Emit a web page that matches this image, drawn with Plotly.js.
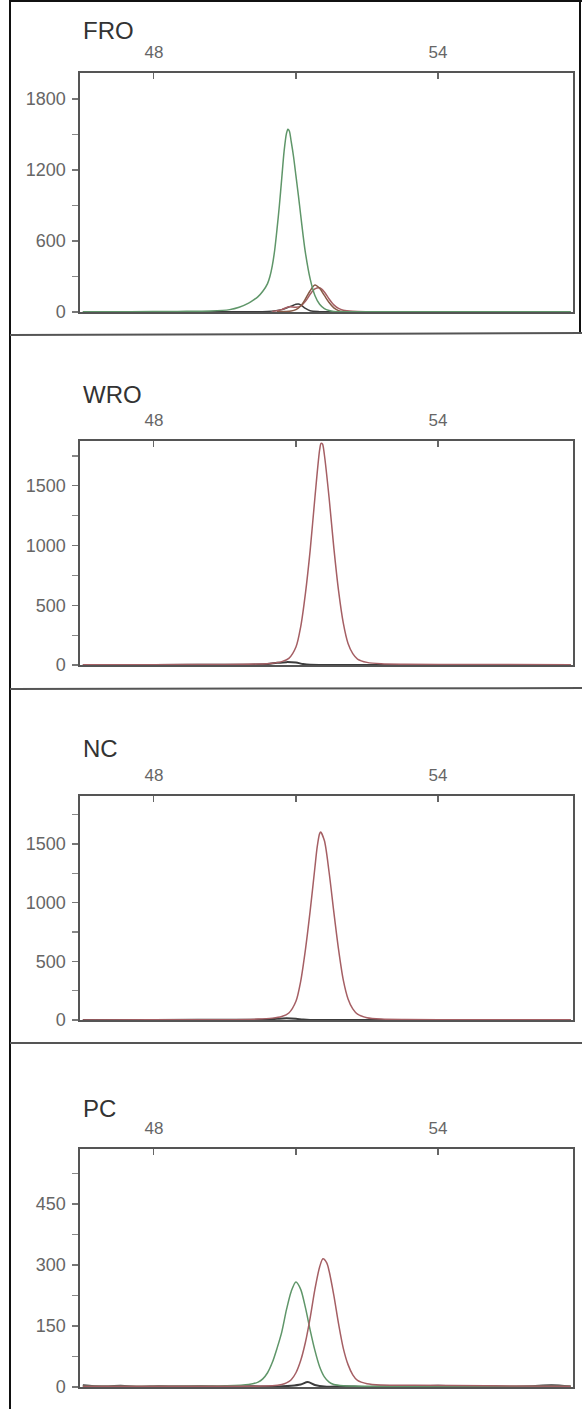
<!DOCTYPE html>
<html>
<head>
<meta charset="utf-8">
<script src="https://cdn.plot.ly/plotly-3.0.1.min.js"></script>
<style>
html,body{margin:0;padding:0;background:#fff;}
#chart{width:582px;height:1409px;}
</style>
</head>
<body>
<div id="chart"></div>
<script>
// ---------- data ----------
var panelTitles = ['FRO', 'WRO', 'NC', 'PC'];
var xTickVals = [48, 51, 54];
var xTickText = ['48', '', '54'];

var froYTicks = [0, 600, 1200, 1800];
var froYMinor = [300, 900, 1500];
var wroYTicks = [0, 500, 1000, 1500];
var wroYMinor = [250, 750, 1250, 1750];
var ncYTicks = [0, 500, 1000, 1500];
var ncYMinor = [250, 750, 1250, 1750];
var pcYTicks = [0, 150, 300, 450];
var pcYMinor = [75, 225, 375, 525];

// FRO
var froGreenX = [46.5, 47.5, 48.5, 49.2, 49.6, 49.8, 50.0, 50.1, 50.2, 50.3, 50.4, 50.45, 50.5, 50.55, 50.6, 50.65, 50.7, 50.75, 50.8, 50.83, 50.86, 50.9, 50.95, 51.0, 51.05, 51.1, 51.15, 51.2, 51.3, 51.4, 51.5, 51.6, 51.7, 51.8, 52.0, 52.4, 53.5, 55, 56.8];
var froGreenY = [2, 3, 5, 8, 20, 40, 75, 100, 130, 175, 240, 300, 390, 520, 700, 900, 1130, 1360, 1510, 1545, 1530, 1440, 1310, 1150, 990, 820, 650, 500, 280, 140, 65, 28, 12, 5, 2, 2, 2, 2, 2];
var froBrownX = [50.6, 50.9, 51.0, 51.1, 51.2, 51.3, 51.4, 51.5, 51.6, 51.7, 51.8, 51.9, 52.0, 52.2];
var froBrownY = [2, 8, 20, 50, 110, 180, 228, 200, 140, 80, 35, 12, 4, 1];
var froRedX = [50.5, 50.7, 50.85, 51.0, 51.1, 51.2, 51.3, 51.4, 51.5, 51.6, 51.7, 51.8, 51.9, 52.0, 52.2, 52.5, 53, 54, 55];
var froRedY = [5, 20, 45, 40, 50, 90, 150, 195, 205, 170, 110, 60, 30, 15, 6, 3, 2, 2, 1];
var froBlackX = [46.5, 48, 49.5, 50.4, 50.7, 50.9, 51.0, 51.05, 51.1, 51.2, 51.3, 51.5, 52, 54, 56.8];
var froBlackY = [0, 0, 2, 5, 20, 50, 65, 68, 60, 30, 10, 3, 1, 0, 0];

// WRO
var wroRedX = [46.5, 48, 49.5, 50.2, 50.5, 50.7, 50.85, 51.0, 51.1, 51.2, 51.3, 51.4, 51.5, 51.53, 51.56, 51.6, 51.7, 51.8, 51.9, 52.0, 52.1, 52.2, 52.3, 52.5, 52.8, 53.3, 54.5, 56.8];
var wroRedY = [2, 3, 4, 8, 15, 28, 55, 150, 320, 600, 960, 1400, 1800, 1855, 1850, 1760, 1400, 980, 620, 350, 180, 95, 50, 22, 10, 6, 4, 3];
var wroBlackX = [46.5, 48, 50.0, 50.4, 50.6, 50.8, 51.0, 51.15, 51.3, 52, 56.8];
var wroBlackY = [0, 1, 3, 8, 18, 24, 20, 8, 2, 1, 0];

// NC
var ncRedX = [46.5, 48, 49.5, 50.2, 50.5, 50.7, 50.85, 51.0, 51.1, 51.2, 51.3, 51.4, 51.45, 51.5, 51.52, 51.6, 51.7, 51.8, 51.9, 52.0, 52.1, 52.2, 52.3, 52.5, 52.8, 53.3, 54.5, 56.8];
var ncRedY = [1, 2, 3, 8, 16, 30, 60, 160, 330, 600, 930, 1300, 1480, 1590, 1603, 1530, 1260, 920, 600, 340, 180, 95, 50, 20, 8, 4, 3, 2];
var ncBlackX = [46.5, 48, 50.0, 50.4, 50.6, 50.8, 51.0, 51.15, 51.3, 52, 56.8];
var ncBlackY = [0, 1, 2, 5, 10, 14, 10, 4, 1, 1, 0];

// PC
var pcGreenX = [46.5, 48, 49.5, 50.0, 50.2, 50.3, 50.4, 50.5, 50.6, 50.7, 50.8, 50.9, 51.0, 51.1, 51.2, 51.3, 51.4, 51.5, 51.6, 51.7, 51.8, 52.0, 52.5, 54, 56.8];
var pcGreenY = [2, 2, 3, 6, 12, 20, 35, 60, 95, 135, 190, 235, 258, 240, 195, 140, 90, 50, 25, 12, 6, 3, 2, 2, 2];
var pcRedX = [46.5, 49, 50.5, 50.7, 50.8, 50.9, 51.0, 51.1, 51.2, 51.3, 51.4, 51.5, 51.57, 51.65, 51.7, 51.8, 51.9, 52.0, 52.1, 52.2, 52.3, 52.5, 52.8, 53.5, 55, 56.8];
var pcRedY = [2, 2, 3, 6, 10, 18, 35, 65, 110, 170, 240, 295, 315, 305, 285, 225, 155, 95, 55, 30, 16, 8, 5, 4, 3, 2];
var pcBlackX = [46.5, 46.9, 47.3, 47.7, 48.1, 48.5, 49.0, 49.5, 50.0, 50.5, 50.9, 51.1, 51.25, 51.4, 51.6, 52.0, 52.5, 53.0, 53.5, 54.0, 54.5, 55.0, 55.5, 56.0, 56.4, 56.8];
var pcBlackY = [4, 1, 3, 0, 2, 1, 2, 0, 2, 1, 3, 6, 12, 5, 1, 2, 0, 2, 1, 3, 1, 2, 0, 2, 4, 1];

// ---------- styling ----------
var W = 582, H = 1409;
var GREEN = 'rgb(95,150,105)';
var RED = 'rgb(165,95,100)';
var BROWN = 'rgb(135,90,70)';
var BLACK = 'rgb(60,60,60)';
var FONT = 'Liberation Sans, Arial, sans-serif';

function py(px) { return 1 - px / H; }
function pxX(px) { return px / W; }

var xDom = [pxX(80), pxX(573)];
var panels = [
  {top: 73, bottom: 312, range: [0, 2020], ticks: froYTicks, minor: froYMinor, titleY: 30},
  {top: 441, bottom: 665, range: [0, 1875], ticks: wroYTicks, minor: wroYMinor, titleY: 395},
  {top: 796, bottom: 1020, range: [0, 1910], ticks: ncYTicks, minor: ncYMinor, titleY: 748},
  {top: 1149, bottom: 1387, range: [0, 585], ticks: pcYTicks, minor: pcYMinor, titleY: 1108}
];

function tr(x, y, color, k, w) {
  return {
    x: x, y: y, type: 'scatter', mode: 'lines',
    line: {color: color, width: w || 1.5, shape: 'spline', smoothing: 0.8},
    xaxis: 'x' + (k === 1 ? '' : k), yaxis: 'y' + (k === 1 ? '' : k),
    hoverinfo: 'skip', showlegend: false
  };
}

var data = [
  tr(froBlackX, froBlackY, BLACK, 1),
  tr(froRedX, froRedY, RED, 1),
  tr(froBrownX, froBrownY, BROWN, 1),
  tr(froGreenX, froGreenY, GREEN, 1),
  tr(wroBlackX, wroBlackY, BLACK, 2, 2),
  tr(wroRedX, wroRedY, RED, 2),
  tr(ncBlackX, ncBlackY, BLACK, 3, 2),
  tr(ncRedX, ncRedY, RED, 3),
  tr(pcBlackX, pcBlackY, BLACK, 4, 2),
  tr(pcGreenX, pcGreenY, GREEN, 4),
  tr(pcRedX, pcRedY, RED, 4)
];

var layout = {
  width: W, height: H,
  margin: {l: 0, r: 0, t: 0, b: 0},
  paper_bgcolor: '#fff', plot_bgcolor: '#fff',
  showlegend: false,
  font: {family: FONT, color: '#555'},
  annotations: [],
  shapes: [
    {type: 'line', xref: 'paper', yref: 'paper', x0: pxX(10), x1: pxX(10), y0: 0, y1: 1, line: {color: '#111', width: 2}},
    {type: 'line', xref: 'paper', yref: 'paper', x0: pxX(10), x1: 1, y0: py(1), y1: py(1), line: {color: '#111', width: 2}},
    {type: 'line', xref: 'paper', yref: 'paper', x0: pxX(580), x1: pxX(580), y0: py(0), y1: py(334), line: {color: '#111', width: 2}},
    {type: 'line', xref: 'paper', yref: 'paper', x0: pxX(10), x1: 1, y0: py(335), y1: py(333), line: {color: '#555', width: 2}},
    {type: 'line', xref: 'paper', yref: 'paper', x0: pxX(10), x1: 1, y0: py(689), y1: py(688), line: {color: '#555', width: 2}},
    {type: 'line', xref: 'paper', yref: 'paper', x0: pxX(10), x1: 1, y0: py(1043), y1: py(1043), line: {color: '#555', width: 2}}
  ]
};

panels.forEach(function (p, i) {
  var k = i + 1;
  var sx = k === 1 ? '' : String(k);
  layout['xaxis' + sx] = {
    domain: xDom, anchor: 'y' + sx, side: 'top',
    range: [46.44, 56.85], fixedrange: true,
    tickmode: 'array', tickvals: xTickVals, ticktext: xTickText,
    ticks: 'inside', ticklen: 6, tickwidth: 1.2, tickcolor: '#666',
    ticklabelstandoff: 7,
    tickfont: {family: FONT, size: 17, color: '#666'},
    showline: true, linecolor: '#555', linewidth: 1.6, mirror: true,
    showgrid: false, zeroline: false
  };
  layout['yaxis' + sx] = {
    domain: [py(p.bottom), py(p.top)], anchor: 'x' + sx,
    range: p.range, fixedrange: true,
    tickmode: 'array', tickvals: p.ticks,
    ticks: 'outside', ticklen: 6, tickwidth: 1.2, tickcolor: '#777',
    ticklabelstandoff: 3,
    minor: {tickmode: 'array', tickvals: p.minor, ticks: 'outside', ticklen: 6, tickwidth: 1.2, tickcolor: '#888', showgrid: false},
    tickfont: {family: FONT, size: 18, color: '#666'},
    showline: true, linecolor: '#555', linewidth: 1.6, mirror: true,
    showgrid: false, zeroline: false
  };
  layout.annotations.push({
    text: panelTitles[i], xref: 'paper', yref: 'paper',
    x: pxX(81), y: py(p.titleY), xanchor: 'left', yanchor: 'middle',
    showarrow: false, font: {family: FONT, size: 24, color: '#333'}
  });
});

Plotly.newPlot('chart', data, layout, {staticPlot: true, displayModeBar: false});
</script>
</body>
</html>
